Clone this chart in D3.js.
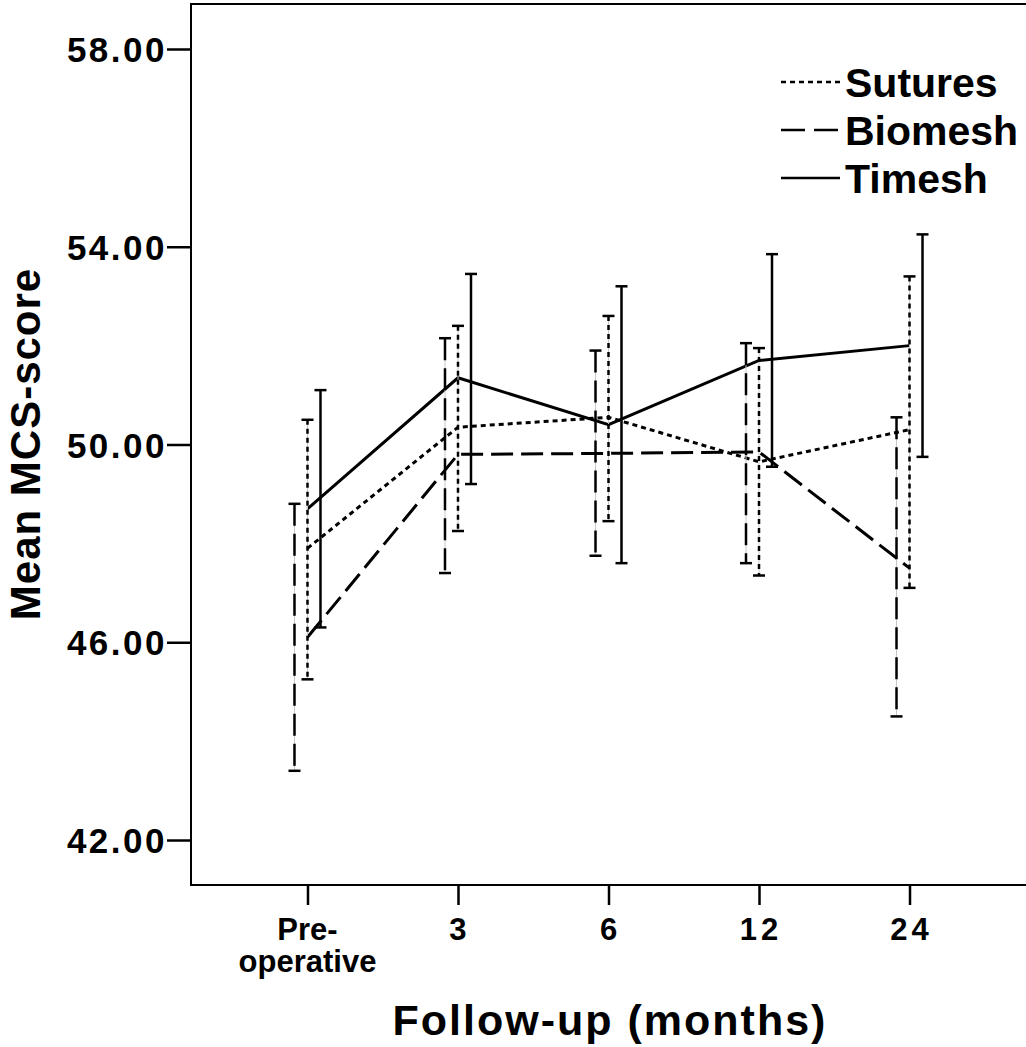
<!DOCTYPE html>
<html>
<head>
<meta charset="utf-8">
<script src="https://cdn.jsdelivr.net/npm/d3@7"></script>
<style>
  body { margin: 0; background: #fff; }
  svg text { font-family: "Liberation Sans", Arial, sans-serif; font-weight: bold; fill: #000; }
</style>
</head>
<body>
<svg id="chart" width="1026" height="1047"></svg>
<script>
// ============= Data =============
const categories = ["Pre-operative", "3", "6", "12", "24"];
const tickLabels = [["Pre-", "operative"], ["3"], ["6"], ["12"], ["24"]];
const yTicks = [42, 46, 50, 54, 58];

const seriesNames = ["Sutures", "Biomesh", "Timesh"];

const suturesMean = [47.9, 50.35, 50.55, 49.65, 50.3];
const suturesLow = [45.25, 48.25, 48.45, 47.35, 47.1];
const suturesHigh = [50.5, 52.4, 52.6, 51.95, 53.4];

const biomeshMean = [46.1, 49.8, 49.82, 49.85, 47.5];
const biomeshLow = [43.4, 47.4, 47.75, 47.6, 44.5];
const biomeshHigh = [48.8, 52.15, 51.9, 52.05, 50.55];

const timeshMean = [48.7, 51.35, 50.4, 51.7, 52.0];
const timeshLow = [46.3, 49.2, 47.6, 49.55, 49.75];
const timeshHigh = [51.1, 53.45, 53.2, 53.85, 54.25];

// ============= Layout =============
const MARGIN = { LEFT: 191, TOP: 4, RIGHT: 0, BOTTOM: 162 };
const width = 1026 - MARGIN.LEFT - MARGIN.RIGHT;
const height = 1047 - MARGIN.TOP - MARGIN.BOTTOM;

const styles = {
  Sutures: { dash: "5,4", offset: 0 },
  Biomesh: { dash: "22,8", offset: -13 },
  Timesh: { dash: null, offset: 13 },
};

const series = [
  { name: "Sutures", mean: suturesMean, low: suturesLow, high: suturesHigh },
  { name: "Biomesh", mean: biomeshMean, low: biomeshLow, high: biomeshHigh },
  { name: "Timesh", mean: timeshMean, low: timeshLow, high: timeshHigh },
];

const svg = d3.select("#chart");
const g = svg.append("g").attr("transform", `translate(${MARGIN.LEFT},${MARGIN.TOP})`);

const xScale = d3.scalePoint().domain(categories).range([0, width]).padding(0.774);
const yScale = d3.scaleLinear().domain([41.09, 58.91]).range([height, 0]);

// Frame
g.append("rect")
  .attr("x", 0)
  .attr("y", 0)
  .attr("width", width + 2)
  .attr("height", height)
  .attr("fill", "none")
  .attr("stroke", "#000")
  .attr("stroke-width", 2);

// Y axis
const yAxis = g.append("g")
  .call(d3.axisLeft(yScale).tickValues(yTicks).tickSize(24).tickPadding(0).tickFormat(d3.format(".2f")));
yAxis.select(".domain").remove();
yAxis.selectAll("line").attr("stroke", "#000").attr("stroke-width", 2.5);
yAxis.selectAll("text")
  .attr("font-family", null)
  .style("font-size", "35px")
  .style("letter-spacing", "2.5px")
  .attr("dy", "0.36em");

// X axis
const xAxis = g.append("g")
  .attr("transform", `translate(0,${height})`)
  .call(d3.axisBottom(xScale).tickSize(20).tickFormat(""));
xAxis.select(".domain").remove();
xAxis.selectAll("line").attr("stroke", "#000").attr("stroke-width", 2.5);

categories.forEach((c, i) => {
  const lines = tickLabels[i];
  const multi = lines.length > 1;
  const t = g.append("text")
    .attr("x", xScale(c))
    .attr("y", height + 55)
    .attr("text-anchor", "middle")
    .style("font-size", "31px")
    .style("letter-spacing", multi ? "0px" : "4px");
  lines.forEach((ln, j) => {
    t.append("tspan").attr("x", xScale(c) + (multi ? 0 : 2)).attr("dy", j === 0 ? 0 : 32).text(ln);
  });
});

// Axis titles
svg.append("text")
  .attr("x", 610)
  .attr("y", 1035)
  .attr("text-anchor", "middle")
  .style("font-size", "43px")
  .style("letter-spacing", "2px")
  .text("Follow-up (months)");

svg.append("text")
  .attr("transform", "translate(40,444) rotate(-90)")
  .attr("text-anchor", "middle")
  .style("font-size", "42px")
  .style("letter-spacing", "1px")
  .text("Mean MCS-score");

// Mean lines
const line = d3.line()
  .x((d, i) => xScale(categories[i]))
  .y((d) => yScale(d));

series.forEach((s) => {
  g.append("path")
    .datum(s.mean)
    .attr("d", line)
    .attr("fill", "none")
    .attr("stroke", "#000")
    .attr("stroke-width", 3)
    .attr("stroke-dasharray", styles[s.name].dash);
});

// Error bars
series.forEach((s) => {
  const st = styles[s.name];
  categories.forEach((c, i) => {
    const x = xScale(c) + st.offset;
    if (st.dash) {
      g.append("line")
        .attr("x1", x).attr("x2", x)
        .attr("y1", yScale(s.high[i])).attr("y2", yScale(s.low[i]))
        .attr("stroke", "#c8c8c8")
        .attr("stroke-width", 1);
    }
    g.append("line")
      .attr("x1", x).attr("x2", x)
      .attr("y1", yScale(s.high[i])).attr("y2", yScale(s.low[i]))
      .attr("stroke", "#000")
      .attr("stroke-width", 2.5)
      .attr("stroke-dasharray", st.dash);
    [s.high[i], s.low[i]].forEach((v) => {
      g.append("line")
        .attr("x1", x - 6).attr("x2", x + 6)
        .attr("y1", yScale(v)).attr("y2", yScale(v))
        .attr("stroke", "#000")
        .attr("stroke-width", 2.5);
    });
  });
});

// Legend
const legend = svg.append("g").attr("transform", "translate(781,82)");
seriesNames.forEach((name, i) => {
  const row = legend.append("g").attr("transform", `translate(0,${i * 48})`);
  row.append("line")
    .attr("x1", 0).attr("x2", 59)
    .attr("y1", 0).attr("y2", 0)
    .attr("stroke", "#000")
    .attr("stroke-width", 2.5)
    .attr("stroke-dasharray", name === "Sutures" ? "5,4" : name === "Biomesh" ? "24,9" : null);
  row.append("text")
    .attr("x", 64)
    .attr("y", 15)
    .style("font-size", "41px")
    .text(name);
});
</script>
</body>
</html>
